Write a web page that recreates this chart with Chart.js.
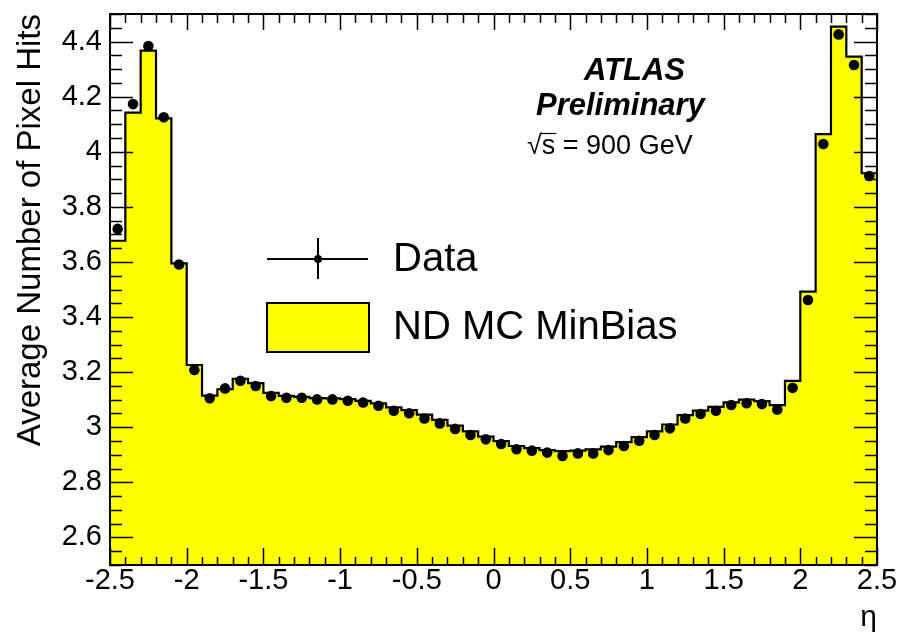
<!DOCTYPE html>
<html><head><meta charset="utf-8">
<script src="https://cdn.jsdelivr.net/npm/chart.js@4"></script>
<style>html,body{margin:0;padding:0;background:#fff}#wrap{width:899px;height:633px}</style>
</head><body><div id="wrap"><canvas id="c" width="899" height="633"></canvas></div>
<script>
// ---- data ----
const etaEdges = [-2.5,-2.4,-2.3,-2.2,-2.1,-2.0,-1.9,-1.8,-1.7,-1.6,-1.5,-1.4,-1.3,-1.2,-1.1,-1.0,-0.9,-0.8,-0.7,-0.6,-0.5,-0.4,-0.3,-0.2,-0.1,0.0,0.1,0.2,0.3,0.4,0.5,0.6,0.7,0.8,0.9,1.0,1.1,1.2,1.3,1.4,1.5,1.6,1.7,1.8,1.9,2.0,2.1,2.2,2.3,2.4,2.5];
const etaCenters = [-2.45,-2.35,-2.25,-2.15,-2.05,-1.95,-1.85,-1.75,-1.65,-1.55,-1.45,-1.35,-1.25,-1.15,-1.05,-0.95,-0.85,-0.75,-0.65,-0.55,-0.45,-0.35,-0.25,-0.15,-0.05,0.05,0.15,0.25,0.35,0.45,0.55,0.65,0.75,0.85,0.95,1.05,1.15,1.25,1.35,1.45,1.55,1.65,1.75,1.85,1.95,2.05,2.15,2.25,2.35,2.45];
const mcMinBias = [3.677,4.142,4.367,4.121,3.595,3.226,3.115,3.138,3.176,3.160,3.125,3.114,3.110,3.106,3.105,3.102,3.096,3.087,3.072,3.062,3.046,3.027,3.006,2.985,2.966,2.950,2.932,2.924,2.917,2.913,2.915,2.920,2.930,2.946,2.964,2.985,3.010,3.044,3.060,3.074,3.090,3.100,3.095,3.080,3.168,3.492,4.064,4.454,4.345,3.922];
const dataHits = [3.720,4.173,4.384,4.125,3.591,3.208,3.105,3.141,3.169,3.150,3.113,3.107,3.107,3.101,3.101,3.096,3.090,3.078,3.060,3.051,3.032,3.014,2.994,2.972,2.956,2.939,2.920,2.915,2.908,2.896,2.905,2.905,2.917,2.932,2.951,2.972,2.996,3.032,3.048,3.060,3.081,3.087,3.084,3.064,3.143,3.462,4.028,4.426,4.315,3.912];
const xTickValues = [-2.5,-2,-1.5,-1,-0.5,0,0.5,1,1.5,2,2.5];
const xTickLabels = ["-2.5","-2","-1.5","-1","-0.5","0","0.5","1","1.5","2","2.5"];
const yTickValues = [2.6,2.8,3.0,3.2,3.4,3.6,3.8,4.0,4.2,4.4];
const yTickLabels = ["2.6","2.8","3","3.2","3.4","3.6","3.8","4","4.2","4.4"];
const xRange = [-2.5, 2.5];
const yRange = [2.5, 4.5];
const xMinorStep = 0.1, yMinorStep = 0.05;

const FONT = '"Liberation Sans", Arial, Helvetica, sans-serif';
const YELLOW = '#ffff00';

// histogram outline points: left edges + closing right edge
const mcPoints = mcMinBias.map((v, i) => ({x: etaEdges[i], y: v}));
mcPoints.push({x: etaEdges[etaEdges.length - 1], y: mcMinBias[mcMinBias.length - 1]});
const dataPoints = dataHits.map((v, i) => ({x: etaCenters[i], y: v}));

const framePlugin = {
  id: 'frame',
  afterDatasetsDraw(chart) {
    const {ctx, chartArea: a, scales: {x, y}} = chart;
    ctx.save();
    ctx.strokeStyle = '#000';
    ctx.lineWidth = 1.5;
    ctx.beginPath();
    const nx = Math.round((xRange[1] - xRange[0]) / xMinorStep);
    for (let i = 0; i <= nx; i++) {
      const v = xRange[0] + i * xMinorStep;
      const major = xTickValues.some(t => Math.abs(t - v) < 1e-6);
      const px = Math.round(x.getPixelForValue(v)) + 0.5;
      const lb = major ? 17 : 8, lt = major ? 16 : 9;
      ctx.moveTo(px, a.bottom); ctx.lineTo(px, a.bottom - lb);
      ctx.moveTo(px, a.top); ctx.lineTo(px, a.top + lt);
    }
    const ny = Math.round((yRange[1] - yRange[0]) / yMinorStep);
    for (let i = 0; i <= ny; i++) {
      const v = yRange[0] + i * yMinorStep;
      const major = yTickValues.some(t => Math.abs(t - v) < 1e-6);
      const py = Math.round(y.getPixelForValue(v)) + 0.5;
      const l = major ? 23 : 12;
      ctx.moveTo(a.left, py); ctx.lineTo(a.left + l, py);
      ctx.moveTo(a.right, py); ctx.lineTo(a.right - l, py);
    }
    ctx.stroke();
    ctx.lineWidth = 2;
    ctx.strokeRect(a.left, a.top, a.right - a.left, a.bottom - a.top);
    ctx.restore();
  },
  afterDraw(chart) {
    const ctx = chart.ctx;
    ctx.save();
    ctx.fillStyle = '#000';
    ctx.textAlign = 'left';
    ctx.textBaseline = 'alphabetic';
    ctx.font = 'bold italic 31px ' + FONT;
    ctx.fillText('ATLAS', 584, 80);
    ctx.fillText('Preliminary', 536, 115);
    ctx.font = '27px ' + FONT;
    const sq = '\u221A';
    ctx.fillText(sq, 527, 154);
    const wsq = ctx.measureText(sq).width;
    ctx.fillText('s = 900 GeV', 527 + wsq, 154);
    const ws = ctx.measureText('s').width;
    ctx.lineWidth = 1.2;
    ctx.beginPath();
    ctx.moveTo(527 + wsq - 1, 133.5);
    ctx.lineTo(527 + wsq + ws + 1, 133.5);
    ctx.stroke();

    // legend
    ctx.strokeStyle = '#000';
    ctx.lineWidth = 2;
    ctx.beginPath();
    ctx.moveTo(267, 259); ctx.lineTo(368, 259);
    ctx.moveTo(318, 238); ctx.lineTo(318, 279);
    ctx.stroke();
    ctx.beginPath(); ctx.arc(318, 259, 4, 0, Math.PI * 2); ctx.fill();
    ctx.fillStyle = YELLOW;
    ctx.fillRect(267, 303, 102, 49);
    ctx.strokeRect(267, 303, 102, 49);
    ctx.fillStyle = '#000';
    ctx.font = '40px ' + FONT;
    ctx.textBaseline = 'middle';
    ctx.fillText('Data', 393, 260);
    ctx.fillText('ND MC MinBias', 393, 328);
    ctx.restore();
  }
};

new Chart(document.getElementById('c'), {
  type: 'scatter',
  data: {
    datasets: [
      {
        label: 'Data',
        data: dataPoints,
        pointRadius: 5.3,
        pointBackgroundColor: '#000',
        pointBorderColor: '#000',
        pointBorderWidth: 0,
        showLine: false,
        order: 0
      },
      {
        label: 'ND MC MinBias',
        type: 'line',
        data: mcPoints,
        stepped: 'before',
        borderColor: '#000',
        borderWidth: 2.2,
        backgroundColor: YELLOW,
        fill: 'start',
        pointRadius: 0,
        order: 1
      }
    ]
  },
  options: {
    responsive: false,
    animation: false,
    devicePixelRatio: 1,
    layout: {padding: {top: 14, right: 22, left: 0, bottom: 0}},
    plugins: {legend: {display: false}, tooltip: {enabled: false}},
    scales: {
      x: {
        type: 'linear', min: xRange[0], max: xRange[1],
        afterBuildTicks: s => { s.ticks = xTickValues.map(v => ({value: v})); },
        afterFit: s => { s.height = 68; s.paddingLeft = 0; s.paddingRight = 0; },
        grid: {display: false, drawTicks: false},
        border: {display: false},
        ticks: {
          callback: (v, i) => xTickLabels[i],
          font: {family: FONT, size: 29, lineHeight: 1},
          color: '#000', maxRotation: 0, autoSkip: false, padding: 1
        },
        title: {display: true, text: '\u03B7', align: 'end', color: '#000',
                font: {family: FONT, size: 30, lineHeight: 1}, padding: {top: 0, bottom: 0}}
      },
      y: {
        type: 'linear', min: yRange[0], max: yRange[1],
        afterBuildTicks: s => { s.ticks = yTickValues.map(v => ({value: v})); },
        afterFit: s => { s.width = 110; s.paddingTop = 0; s.paddingBottom = 0; },
        grid: {display: false, drawTicks: false},
        border: {display: false},
        ticks: {
          callback: (v, i) => yTickLabels[i],
          font: {family: FONT, size: 29, lineHeight: 1},
          color: '#000', autoSkip: false, padding: 8
        },
        title: {display: true, text: 'Average Number of Pixel Hits', align: 'end', color: '#000',
                font: {family: FONT, size: 33, lineHeight: 1}, padding: {top: 14, bottom: 0}}
      }
    }
  },
  plugins: [framePlugin]
});
</script>
</body></html>
